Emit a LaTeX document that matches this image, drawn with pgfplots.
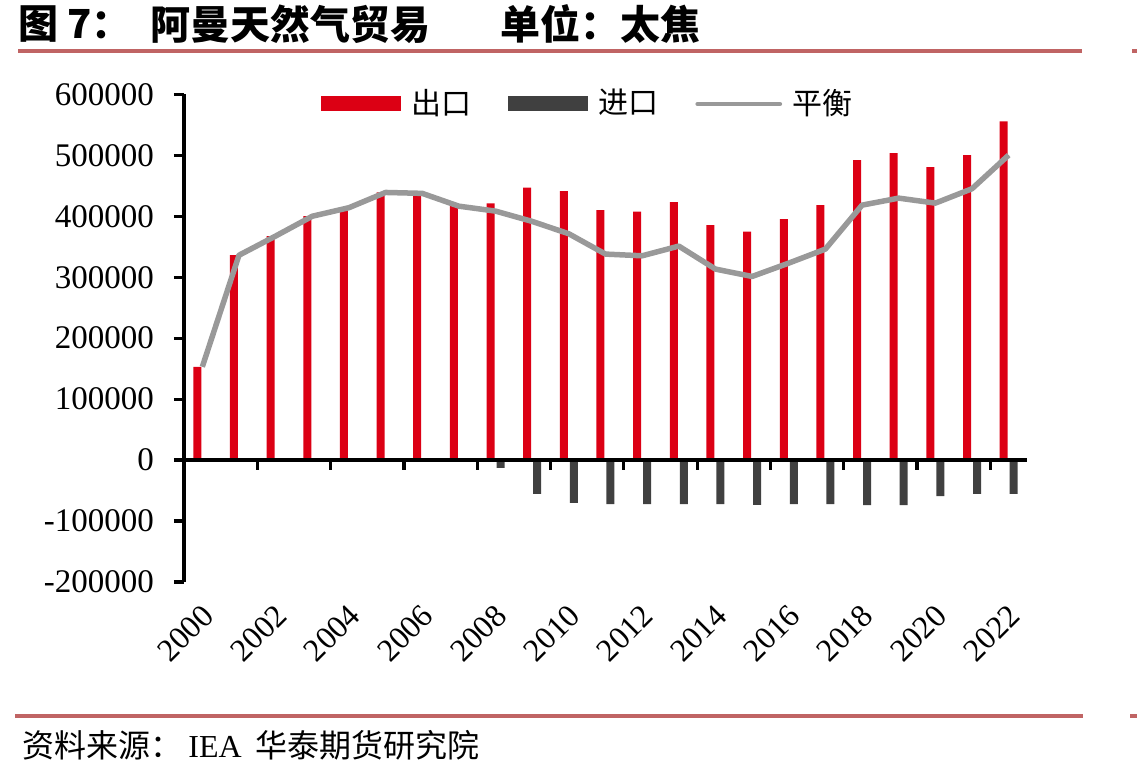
\documentclass[border=0pt]{standalone}
\usepackage{pgfplots}
\pgfplotsset{compat=1.18}
\usepackage{fontspec}
\setmainfont{Liberation Serif}
\newfontfamily\cjk{Noto Sans CJK SC}
\definecolor{cred}{HTML}{DC0014}
\definecolor{cdark}{HTML}{404040}
\definecolor{cgray}{HTML}{999999}
\definecolor{crule}{HTML}{C06464}
\begin{document}
\begin{tikzpicture}
\path (0pt,0pt) rectangle (568.5pt,-387.5pt);
% rules
\fill[crule] (9pt,-24.5pt) rectangle (541pt,-26.5pt);
\fill[crule] (566pt,-24.5pt) rectangle (568.5pt,-26.5pt);
\fill[crule] (7.5pt,-357pt) rectangle (541.5pt,-359pt);
\fill[crule] (565pt,-357pt) rectangle (568.5pt,-359pt);
% title
\node[anchor=west,inner sep=0pt,font=\cjk\bfseries\fontsize{20}{20}\selectfont] at (9pt,-12pt) {图 7：};
\node[anchor=west,inner sep=0pt,font=\cjk\bfseries\fontsize{20}{20}\selectfont] at (75pt,-12pt) {阿曼天然气贸易};
\node[anchor=west,inner sep=0pt,font=\cjk\bfseries\fontsize{20}{20}\selectfont] at (250pt,-12pt) {单位：太焦};
% footer
\node[anchor=west,inner sep=0pt,font=\fontsize{16}{16}\selectfont] at (11pt,-372.5pt) {{\cjk 资料来源：}\hspace{3pt}IEA\hspace{7pt}{\cjk 华泰期货研究院}};
\begin{axis}[
  at={(92pt,-291pt)}, anchor=south west,
  scale only axis, width=421.5pt, height=243.85pt,
  xmin=-0.5, xmax=22.5, ymin=-200000, ymax=600000,
  axis lines*=left, separate axis lines,
  x axis line style={draw=none},
  y axis line style={line width=1.6pt},
  xtick={0,2,...,22},
  xticklabels={2000,2002,2004,2006,2008,2010,2012,2014,2016,2018,2020,2022},
  major x tick style={draw=none},
  xticklabel style={rotate=45, anchor=east, font=\fontsize{16}{16}\selectfont, yshift=-8.5pt, xshift=-1pt},
  ytick={-200000,-100000,...,600000},
  tick align=outside,
  major tick length=5pt,
  y tick style={line width=1.6pt, black},
  scaled y ticks=false,
  yticklabel style={/pgf/number format/.cd, fixed, precision=0, 1000 sep={}, /tikz/.cd, font=\fontsize{16.5}{16.5}\selectfont, xshift=-6.5pt},
  /pgf/number format/assume math mode=true,
  clip=false,
  legend columns=3,
  legend style={at={(0.1625,0.982)}, anchor=west, draw=none, fill=none, inner sep=0pt,
     font=\cjk\fontsize{15}{15}\selectfont,
     /tikz/every odd column/.append style={column sep=3pt},
     /tikz/every even column/.append style={column sep=16.5pt}},
]
\addplot[ybar, bar width=4pt, bar shift=-2.5pt, fill=cred, draw=none,
  legend image code/.code={\fill[cred] (0pt,-4pt) rectangle (40pt,3.5pt);}]
  coordinates {(0,153000) (1,336000) (2,367500) (3,400000) (4,414000) (5,439000) (6,437500) (7,416500) (8,421000) (9,446800) (10,441300) (11,410200) (12,407400) (13,423300) (14,385600) (15,374600) (16,395400) (17,418400) (18,492200) (19,503700) (20,480700) (21,500400) (22,555600)};
\addplot[ybar, bar width=4pt, bar shift=2.5pt, fill=cdark, draw=none,
  legend image code/.code={\fill[cdark] (0pt,-4pt) rectangle (40pt,3.5pt);}]
  coordinates {(8,-12600) (9,-55300) (10,-70100) (11,-72300) (12,-72300) (13,-72300) (14,-72300) (15,-73400) (16,-72300) (17,-72300) (18,-74000) (19,-74000) (20,-59200) (21,-55300) (22,-55300)};
\addplot[sharp plot, cgray, line width=2.75pt, line join=round, no markers,
  legend image code/.code={\draw[cgray, line width=2.4pt, line cap=round] (0pt,-0.5pt) -- (41pt,-0.5pt);}]
  coordinates {(0,153000) (1,336000) (2,367500) (3,400000) (4,414000) (5,439000) (6,437500) (7,416500) (8,408400) (9,391500) (10,371200) (11,337900) (12,335100) (13,351000) (14,313300) (15,301200) (16,323100) (17,346100) (18,418200) (19,429700) (20,421500) (21,445100) (22,500300)};
\legend{出口,进口,平衡}
\draw[line width=1.6pt] (axis cs:-0.5,0) -- (axis cs:22.5,0);
\pgfplotsinvokeforeach{1.5,3.5,...,21.5}{\draw[line width=1.6pt] (axis cs:#1,0) -- ++(0pt,-5pt);}
\end{axis}
\end{tikzpicture}
\end{document}
